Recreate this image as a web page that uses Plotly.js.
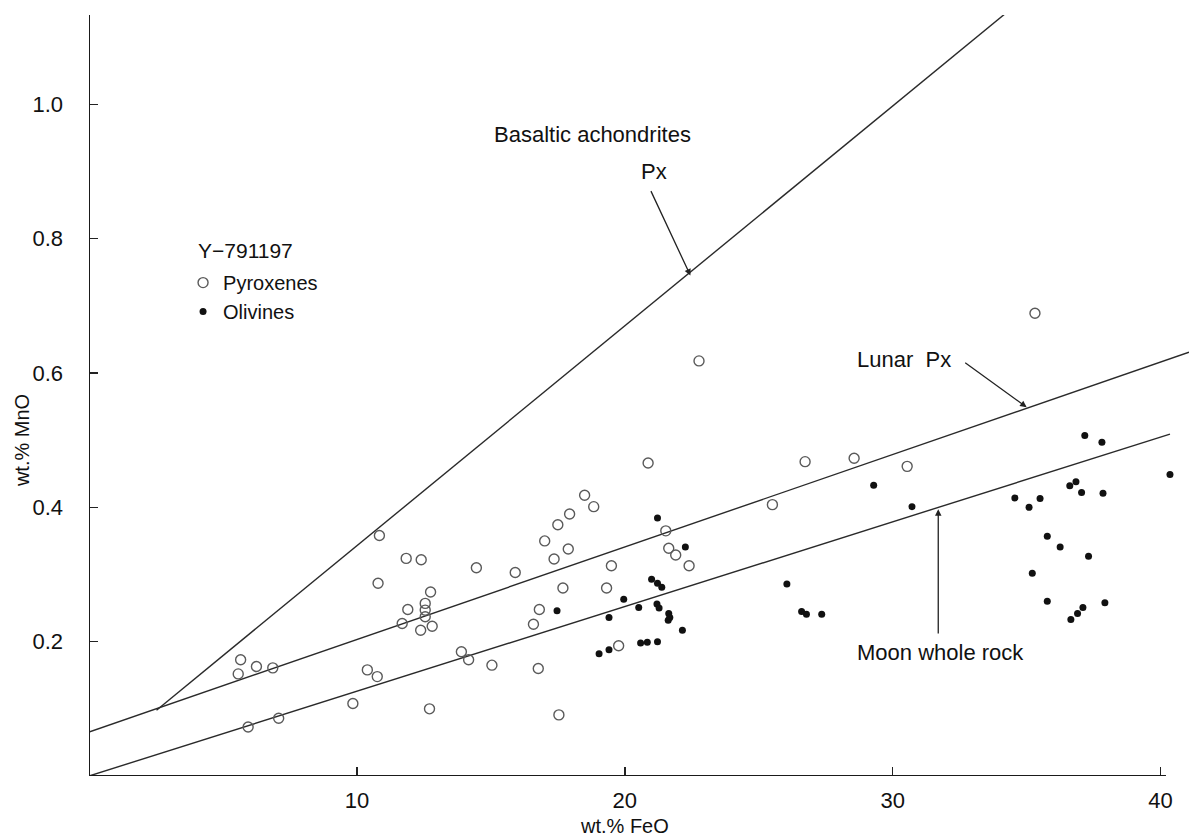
<!DOCTYPE html>
<html>
<head>
<meta charset="utf-8">
<script src="https://cdn.plot.ly/plotly-3.0.1.min.js"></script>
<style>
  html, body { margin: 0; padding: 0; background: #ffffff; }
  #chart { width: 1189px; height: 837px; }
</style>
</head>
<body>
<div id="chart"></div>
<script>
// Y-791197: MnO vs FeO (wt.%) in pyroxenes and olivines
const pyxFeO = [5.66, 5.57, 6.25, 6.86, 5.94, 7.08, 9.85, 10.39, 10.76, 10.84,
  10.79, 11.84, 12.40, 14.46, 12.75, 11.90, 12.55, 12.55, 12.55, 11.69,
  12.38, 12.81, 13.90, 14.17, 15.04, 12.71, 15.91, 16.77, 17.54, 16.59,
  16.81, 17.69, 17.36, 17.89, 17.01, 17.50, 17.94, 18.50, 18.84, 19.50,
  19.32, 19.77, 22.77, 20.87, 26.73, 28.56, 25.51, 21.53, 21.64, 21.90,
  22.40, 35.31, 30.54];
const pyxMnO = [0.173, 0.152, 0.163, 0.161, 0.073, 0.086, 0.108, 0.158, 0.148, 0.358,
  0.287, 0.324, 0.322, 0.310, 0.274, 0.248, 0.257, 0.247, 0.237, 0.227,
  0.217, 0.223, 0.185, 0.173, 0.165, 0.100, 0.303, 0.160, 0.091, 0.226,
  0.248, 0.280, 0.323, 0.338, 0.350, 0.374, 0.390, 0.418, 0.401, 0.313,
  0.280, 0.194, 0.618, 0.466, 0.468, 0.473, 0.404, 0.365, 0.339, 0.329,
  0.313, 0.689, 0.461];

const olFeO = [17.47, 19.41, 19.96, 19.04, 19.41, 20.52, 21.22, 22.26, 21.00, 21.22,
  21.38, 21.20, 21.28, 21.64, 21.68, 21.62, 22.15, 20.59, 20.84, 21.22,
  26.05, 26.60, 26.78, 27.35, 29.29, 30.72, 37.17, 37.81, 40.35, 34.56,
  35.09, 35.50, 36.61, 36.84, 37.05, 37.85, 35.77, 36.25, 37.31, 35.21,
  35.77, 37.92, 37.10, 36.90, 36.65];
const olMnO = [0.246, 0.236, 0.263, 0.182, 0.188, 0.251, 0.384, 0.341, 0.293, 0.287,
  0.281, 0.256, 0.250, 0.242, 0.236, 0.232, 0.217, 0.198, 0.199, 0.200,
  0.286, 0.245, 0.241, 0.241, 0.433, 0.401, 0.507, 0.497, 0.449, 0.414,
  0.400, 0.413, 0.432, 0.438, 0.422, 0.421, 0.357, 0.341, 0.327, 0.302,
  0.260, 0.258, 0.251, 0.242, 0.233];

// Reference trend lines (FeO, MnO end points)
const basalticFeO = [2.52, 34.2];
const basalticMnO = [0.098, 1.135];
const lunarFeO = [0, 41.06];
const lunarMnO = [0.0655, 0.631];
const moonFeO = [0, 40.35];
const moonMnO = [0, 0.509];

const xTicks = [10, 20, 30, 40];
const yTicks = [0.2, 0.4, 0.6, 0.8, 1.0];
const yTickText = ['0.2', '0.4', '0.6', '0.8', '1.0'];

const ink = '#111111';
const font = 'Liberation Sans, Arial, Helvetica, sans-serif';

const lineStyle = {color: '#2a2a2a', width: 1.4};

const traces = [
  {x: basalticFeO, y: basalticMnO, mode: 'lines', line: lineStyle, showlegend: false, hoverinfo: 'skip'},
  {x: lunarFeO, y: lunarMnO, mode: 'lines', line: lineStyle, showlegend: false, hoverinfo: 'skip'},
  {x: moonFeO, y: moonMnO, mode: 'lines', line: lineStyle, showlegend: false, hoverinfo: 'skip'},
  {
    x: pyxFeO, y: pyxMnO, mode: 'markers', name: 'Pyroxenes',
    marker: {symbol: 'circle-open', size: 10, color: '#5a5a5a', line: {width: 1.4, color: '#5a5a5a'}}
  },
  {
    x: olFeO, y: olMnO, mode: 'markers', name: 'Olivines',
    marker: {symbol: 'circle', size: 7, color: '#111111'}
  }
];

const arrow = {showarrow: true, arrowhead: 2, arrowsize: 1, arrowwidth: 1.3,
  arrowcolor: '#222', axref: 'x', ayref: 'y', text: ''};

const layout = {
  width: 1189,
  height: 837,
  margin: {l: 89, r: 0, t: 15, b: 61},
  paper_bgcolor: '#ffffff',
  plot_bgcolor: '#ffffff',
  font: {family: font, color: ink, size: 18},
  showlegend: true,
  legend: {
    x: 0.0855, y: 0.674, xanchor: 'left', yanchor: 'top',
    bgcolor: 'rgba(0,0,0,0)', borderwidth: 0,
    font: {family: font, size: 20, color: ink},
    tracegroupgap: 0
  },
  xaxis: {
    range: [0, 41.06],
    showgrid: false, zeroline: false, showline: false,
    ticks: 'inside', ticklen: 9, tickwidth: 1.5, tickcolor: '#222',
    tickvals: xTicks, ticktext: xTicks.map(String),
    tickfont: {family: font, size: 22, color: ink},
    ticklabelstandoff: 9,
    fixedrange: true
  },
  yaxis: {
    range: [0, 1.133],
    showgrid: false, zeroline: false, showline: false,
    ticks: 'inside', ticklen: 9, tickwidth: 1.5, tickcolor: '#222',
    tickvals: yTicks, ticktext: yTickText,
    tickfont: {family: font, size: 22, color: ink},
    ticklabelstandoff: 25,
    fixedrange: true
  },
  shapes: [
    {type: 'line', xref: 'x', yref: 'paper', x0: 0, x1: 0, y0: 0, y1: 1,
      line: {color: '#1a1a1a', width: 2}},
    {type: 'line', xref: 'x', yref: 'y', x0: 0, x1: 40.2, y0: 0, y1: 0,
      line: {color: '#1a1a1a', width: 2}}
  ],
  annotations: [
    {text: 'wt.% FeO', xref: 'x', yref: 'paper', x: 20, y: -0.066, showarrow: false,
      xanchor: 'center', yanchor: 'middle', font: {size: 20}},
    {text: 'wt.% MnO', xref: 'paper', yref: 'y', x: -0.061, y: 0.50, showarrow: false,
      textangle: -90, xanchor: 'center', yanchor: 'middle', font: {size: 20}},
    {text: 'Y\u2212791197', xref: 'paper', yref: 'paper', x: 0.0973, y: 0.691, showarrow: false,
      xanchor: 'left', yanchor: 'middle', font: {size: 21}},
    {text: 'Basaltic achondrites', xref: 'x', yref: 'y', x: 18.8, y: 0.955, showarrow: false,
      xanchor: 'center', yanchor: 'middle', font: {size: 22}},
    {text: 'Px', xref: 'x', yref: 'y', x: 21.1, y: 0.9, showarrow: false,
      xanchor: 'center', yanchor: 'middle', font: {size: 22}},
    Object.assign({}, arrow, {x: 22.45, y: 0.745, ax: 20.95, ay: 0.873}),
    {text: 'Lunar  Px', xref: 'x', yref: 'y', x: 28.6, y: 0.62, showarrow: false,
      xanchor: 'left', yanchor: 'middle', font: {size: 22}},
    Object.assign({}, arrow, {x: 35.0, y: 0.549, ax: 32.65, ay: 0.617}),
    {text: 'Moon whole rock', xref: 'x', yref: 'y', x: 28.6, y: 0.184, showarrow: false,
      xanchor: 'left', yanchor: 'middle', font: {size: 22}},
    Object.assign({}, arrow, {x: 31.7, y: 0.397, ax: 31.7, ay: 0.21})
  ]
};

Plotly.newPlot('chart', traces, layout, {displayModeBar: false, staticPlot: true});
</script>
</body>
</html>
